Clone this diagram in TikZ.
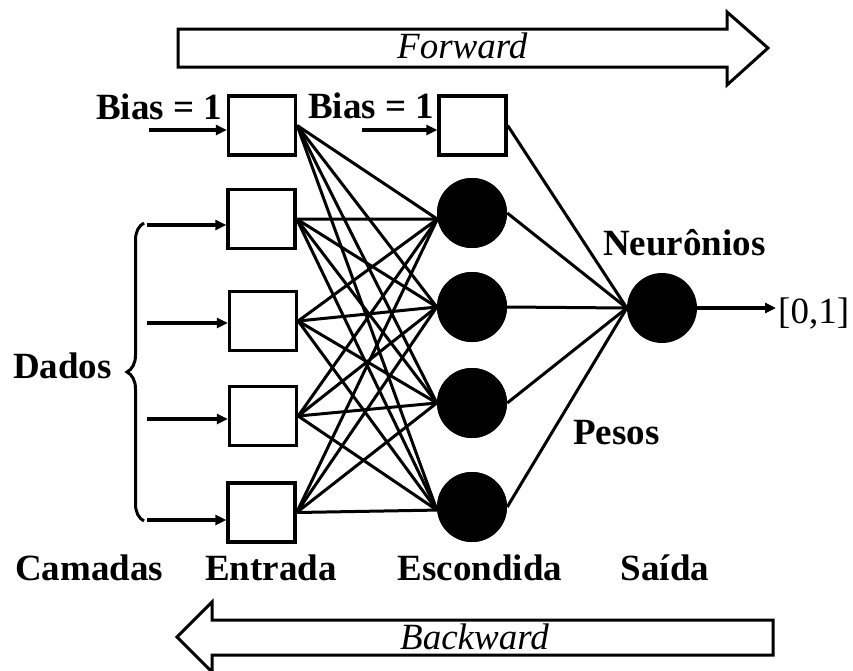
\documentclass[tikz,border=0pt]{standalone}
\usepackage{fontspec}
\setmainfont{Liberation Serif}
\usetikzlibrary{arrows.meta,decorations.pathreplacing}
\tikzset{
  wire/.style={line width=3pt},
  inbox/.style={draw, line width=3.3pt, minimum width=67pt, minimum height=59pt, inner sep=0pt},
  neuron/.style={circle, fill=black, minimum size=70pt, inner sep=0pt},
  feed/.style={line width=3.2pt, -{Triangle[length=11pt,width=10pt]}},
  lbl/.style={inner sep=0pt, font=\fontsize{37}{40}\selectfont\bfseries},
  bigarrow/.style={draw, line width=3pt, fill=white, line join=miter},
}
\begin{document}
\begin{tikzpicture}[x=1pt,y=-1pt]
\useasboundingbox (0,0) rectangle (853,670);
% big arrows
\draw[bigarrow] (178,29) -- (727,29) -- (727,12) -- (768,48) -- (727,85) -- (727,67) -- (178,67) -- cycle;
\node[inner sep=0pt, anchor=base west, font=\fontsize{37}{40}\selectfont\itshape] (fw) at (397,58) {Forward};
\draw[bigarrow] (773,620) -- (212,620) -- (212,602) -- (177,637) -- (212,672) -- (212,655) -- (773,655) -- cycle;
\node[inner sep=0pt, anchor=base west, font=\fontsize{37}{40}\selectfont\itshape] (bw) at (400,649) {Backward};
% input layer
\node[inbox] (b1) at (262,125.5) {};
\node[inbox] (i1) at (261.5,219) {};
\node[inbox] (i2) at (263,321) {};
\node[inbox] (i3) at (263,416) {};
\node[inbox] (i4) at (261.5,512.5) {};
% hidden layer
\node[inbox] (b2) at (472.5,125.5) {};
\node[neuron] (h1) at (472,213) {};
\node[neuron] (h2) at (472,307) {};
\node[neuron] (h3) at (472,403) {};
\node[neuron] (h4) at (472,507) {};
% output
\node[neuron] (o) at (662,308) {};
% weights input -> hidden
\foreach \s in {b1,i1,i2,i3,i4}{
  \draw[wire] (\s.east) -- (h1.190);
  \draw[wire] (\s.east) -- (h2.west);
  \draw[wire] (\s.east) -- (h3.west);
  \draw[wire] (\s.east) -- (h4.185);
}
% weights hidden -> output
\foreach \s in {h1,h2,h3,h4}{
  \draw[wire] (\s.east) -- (o.west);
}
\draw[wire] (b2.east) -- (o.west);
% redraw neurons on top
\foreach \n/\y in {h1/213,h2/307,h3/403,h4/507}{
  \fill (472,\y) circle (35);
}
% bias inputs
\coordinate (bs1) at (149,130);
\coordinate (bs2) at (362,130);
\draw[feed] (bs1) -- (bs1 -| b1.west);
\draw[feed] (bs2) -- (bs2 -| b2.west);
\node[lbl, anchor=base west] (bt1) at (96,119) {Bias = 1};
\node[lbl, anchor=base west] (bt2) at (308,118) {Bias = 1};
% data inputs
\coordinate (d1) at (147,225);
\coordinate (d2) at (147,323);
\coordinate (d3) at (147,419);
\coordinate (d4) at (147,520);
\draw[feed] (d1) -- (d1 -| i1.west);
\draw[feed] (d2) -- (d2 -| i2.west);
\draw[feed] (d3) -- (d3 -| i3.west);
\draw[feed] (d4) -- (d4 -| i4.west);
\draw[line width=3pt, decorate, decoration={brace, amplitude=17pt}] (144,521) -- (144,223);
\node[lbl, anchor=base west] (dados) at (13,378) {Dados};
% output arrow
\coordinate (res) at (776,308);
\draw[feed] (o.east) -- (res);
\node[inner sep=0pt, anchor=base west, font=\fontsize{37}{40}\selectfont] (rt) at (778,323) {[0,1]};
% labels
\node[lbl, anchor=base west] (neu) at (603,255) {Neurônios};
\node[lbl, anchor=base west] (pes) at (573,444) {Pesos};
\node[lbl, anchor=base west] (cam) at (15,580) {Camadas};
\node[lbl, anchor=base] (ent) at (271,580) {Entrada};
\node[lbl, anchor=base] (esc) at (480,580) {Escondida};
\node[lbl, anchor=base] (sai) at (665,580) {Saída};
\end{tikzpicture}
\end{document}
